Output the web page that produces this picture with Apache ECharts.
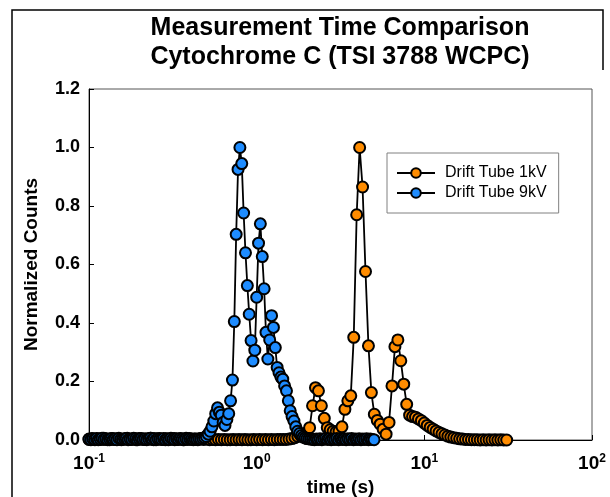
<!DOCTYPE html>
<html>
<head>
    <meta charset="utf-8">
    <title>Measurement Time Comparison</title>
    <script src="https://cdn.jsdelivr.net/npm/echarts@6/dist/echarts.min.js"></script>
    <style>
        html, body { margin: 0; padding: 0; background: #fff; }
        #main { width: 610px; height: 497px; }
    </style>
</head>
<body>
<div id="main"></div>
<script>
    var FONT = 'Liberation Sans, Arial, sans-serif';

    var seriesNames = ['Drift Tube 1kV', 'Drift Tube 9kV'];
    var seriesColors = ['#ff8c00', '#1e8cff'];
    var xTicks = [0.1, 1, 10, 100];
    var yTicks = [0, 0.2, 0.4, 0.6, 0.8, 1.0, 1.2];

    // drift tube 1kV (orange)
    var time1kV = [
        0.1000, 0.1041, 0.1084, 0.1129, 0.1175, 0.1224, 0.1274, 0.1327, 0.1382, 0.1439,
        0.1498, 0.1560, 0.1624, 0.1691, 0.1761, 0.1833, 0.1909, 0.1988, 0.2069, 0.2154,
        0.2243, 0.2336, 0.2432, 0.2532, 0.2637, 0.2745, 0.2858, 0.2976, 0.3099, 0.3227,
        0.3360, 0.3498, 0.3642, 0.3793, 0.3949, 0.4112, 0.4281, 0.4458, 0.4642, 0.4833,
        0.5032, 0.5240, 0.5456, 0.5681, 0.5915, 0.6159, 0.6413, 0.6677, 0.6952, 0.7239,
        0.7537, 0.7848, 0.8171, 0.8508, 0.8859, 0.9224, 0.9604,
        1.000, 1.041, 1.084, 1.129, 1.175, 1.224, 1.274, 1.327, 1.382, 1.439,
        1.498, 1.560, 1.624, 1.691, 1.761, 1.833, 1.909, 1.988, 2.069, 2.154,
        2.243, 2.336, 2.432, 2.532, 2.637, 2.745, 2.858, 2.976, 3.099, 3.227,
        3.360, 3.498, 3.642, 3.793, 3.949, 4.112, 4.281, 4.458, 4.642, 4.833,
        5.032, 5.240, 5.456, 5.681, 5.915, 6.159, 6.413, 6.677, 6.952, 7.239,
        7.537, 7.848, 8.171, 8.508, 8.859, 9.224, 9.604,
        10.00, 10.41, 10.84, 11.29, 11.75, 12.24, 12.74, 13.27, 13.82, 14.39,
        14.98, 15.60, 16.24, 16.91, 17.61, 18.33, 19.09, 19.88, 20.69, 21.54,
        22.43, 23.36, 24.32, 25.32, 26.37, 27.45, 28.58, 29.76, 30.99
    ];
    var counts1kV = [
        0.002, 0.005, 0.001, 0.004, 0.002, 0.006, 0.003, 0.001, 0.005, 0.002,
        0.004, 0.001, 0.003, 0.006, 0.002, 0.004, 0.001, 0.005, 0.003, 0.002,
        0.004, 0.006, 0.001, 0.003, 0.005, 0.002, 0.004, 0.001, 0.003, 0.005,
        0.002, 0.004, 0.001, 0.006, 0.003, 0.002, 0.004, 0.001, 0.005, 0.002,
        0.003, 0.001, 0.002, 0.001, 0.002, 0.001, 0.002, 0.001, 0.001, 0.002,
        0.001, 0.002, 0.001, 0.002, 0.001, 0.001, 0.002,
        0.001, 0.002, 0.001, 0.002, 0.001, 0.002, 0.001, 0.002, 0.002, 0.002,
        0.002, 0.003, 0.005, 0.008, 0.012, 0.015, 0.02, 0.025, 0.042, 0.117,
        0.179, 0.168, 0.117, 0.074, 0.042, 0.035, 0.03, 0.028, 0.03, 0.045,
        0.105, 0.134, 0.151, 0.351, 0.77, 1.0, 0.865, 0.576, 0.322, 0.162,
        0.088, 0.067, 0.054, 0.037, 0.02, 0.06, 0.185, 0.319, 0.342, 0.271,
        0.191, 0.122, 0.085, 0.08, 0.078, 0.072, 0.066,
        0.058, 0.05, 0.043, 0.037, 0.031, 0.026, 0.021, 0.017, 0.013, 0.01,
        0.008, 0.006, 0.004, 0.003, 0.002, 0.002, 0.001, 0.001, 0.001, 0,
        0.001, 0, 0.001, 0, 0.001, 0, 0.001, 0, 0
    ];

    // drift tube 9kV (blue)
    var time9kV = [
        0.1000, 0.1026, 0.1052, 0.1080, 0.1108, 0.1136, 0.1166, 0.1196, 0.1227, 0.1259,
        0.1292, 0.1325, 0.1359, 0.1395, 0.1431, 0.1468, 0.1506, 0.1545, 0.1585, 0.1626,
        0.1668, 0.1711, 0.1756, 0.1801, 0.1848, 0.1896, 0.1945, 0.1995, 0.2047, 0.2100,
        0.2154, 0.2210, 0.2268, 0.2326, 0.2387, 0.2448, 0.2512, 0.2577, 0.2644, 0.2712,
        0.2783, 0.2855, 0.2929, 0.3005, 0.3082, 0.3162, 0.3244, 0.3328, 0.3415, 0.3503,
        0.3594, 0.3687, 0.3782, 0.3881, 0.3981, 0.4084, 0.4190, 0.4299, 0.4410, 0.4524,
        0.4642, 0.4762, 0.4885, 0.5012, 0.5142, 0.5275, 0.5412, 0.5552, 0.5696, 0.5843,
        0.5995, 0.6150, 0.6310, 0.6473, 0.6641, 0.6813, 0.6989, 0.7171, 0.7356, 0.7547,
        0.7743, 0.7943, 0.8149, 0.8360, 0.8577, 0.8799, 0.9027, 0.9261, 0.9501, 0.9747,
        1.000, 1.026, 1.052, 1.080, 1.108, 1.136, 1.166, 1.196, 1.227, 1.259,
        1.292, 1.325, 1.359, 1.395, 1.431, 1.468, 1.506, 1.545, 1.585, 1.626,
        1.668, 1.711, 1.756, 1.801, 1.848, 1.896, 1.945, 1.995, 2.047, 2.100,
        2.154, 2.210, 2.268, 2.326, 2.387, 2.448, 2.512, 2.577, 2.644, 2.712,
        2.783, 2.855, 2.929, 3.005, 3.082, 3.162, 3.244, 3.328, 3.415, 3.503,
        3.594, 3.687, 3.782, 3.881, 3.981, 4.084, 4.190, 4.299, 4.410, 4.524,
        4.642, 4.762, 4.885, 5.012
    ];
    var counts9kV = [
        0.003, 0.001, 0.004, 0.002, 0.005, 0.001, 0.003, 0.006, 0.002, 0.004,
        0.001, 0.003, 0.005, 0.002, 0.004, 0.001, 0.006, 0.003, 0.002, 0.004,
        0.005, 0.001, 0.003, 0.002, 0.006, 0.004, 0.001, 0.003, 0.005, 0.002,
        0.004, 0.001, 0.003, 0.006, 0.002, 0.005, 0.001, 0.004, 0.003, 0.002,
        0.005, 0.001, 0.004, 0.002, 0.006, 0.003, 0.001, 0.004, 0.002, 0.005,
        0.003, 0.001, 0.004, 0.002, 0.005, 0.003, 0.001, 0.002, 0.002, 0.004,
        0.003, 0.006, 0.008, 0.012, 0.02, 0.03, 0.045, 0.065, 0.09, 0.11,
        0.095, 0.085, 0.06, 0.05, 0.07, 0.09, 0.134, 0.205, 0.405, 0.703,
        0.925, 1.0, 0.945, 0.776, 0.64, 0.528, 0.43, 0.34, 0.27, 0.307,
        0.488, 0.673, 0.739, 0.627, 0.517, 0.368, 0.277, 0.342, 0.425, 0.385,
        0.316, 0.248, 0.23, 0.215, 0.208, 0.185, 0.168, 0.134, 0.10, 0.08,
        0.065, 0.045, 0.03, 0.022, 0.015, 0.01, 0.007, 0.005, 0.004, 0.003,
        0.002, 0.001, 0.003, 0.002, 0.004, 0.001, 0.003, 0.005, 0.002, 0.004,
        0.001, 0.003, 0.002, 0.005, 0.001, 0.004, 0.002, 0.003, 0.001, 0.004,
        0.002, 0.005, 0.001, 0.003, 0.002, 0.004, 0.001, 0.003, 0.002, 0.004,
        0.001, 0.003, 0.002, 0.001
    ];

    function zip(xs, ys) {
        var out = [];
        for (var i = 0; i < xs.length; i++) out.push([xs[i], ys[i]]);
        return out;
    }

    function makeSeries(name, color, xs, ys) {
        return {
            name: name,
            type: 'line',
            data: zip(xs, ys),
            symbol: 'circle',
            symbolSize: 11,
            showAllSymbol: true,
            clip: false,
            itemStyle: {color: color, borderColor: '#000', borderWidth: 2},
            lineStyle: {color: '#000', width: 1.8}
        };
    }

    var myChart = echarts.init(document.getElementById('main'), null, {renderer: 'canvas'});

    var option = {
        animation: false,
        backgroundColor: '#fff',
        graphic: [
            {
                type: 'polyline',
                shape: {points: [[12, 497], [12, 10], [603, 10], [603, 70]]},
                style: {stroke: '#000', lineWidth: 1.5, fill: null}
            },
            {
                type: 'text', x: 340, y: 28,
                style: {
                    text: 'Measurement Time Comparison', align: 'center', verticalAlign: 'middle',
                    font: 'bold 25px ' + FONT, fill: '#000'
                }
            },
            {
                type: 'text', x: 340, y: 57,
                style: {
                    text: 'Cytochrome C (TSI 3788 WCPC)', align: 'center', verticalAlign: 'middle',
                    font: 'bold 25px ' + FONT, fill: '#000'
                }
            }
        ],
        grid: {
            left: 89, right: 18, top: 89, bottom: 57,
            outerBoundsMode: 'none',
            show: true, borderColor: '#555', borderWidth: 1
        },
        legend: {
            orient: 'vertical',
            left: 387, top: 153,
            padding: [12, 12, 12, 9],
            itemGap: 4,
            itemWidth: 38,
            itemHeight: 12,
            borderColor: '#808080',
            borderWidth: 1,
            textStyle: {fontSize: 16, color: '#000', fontFamily: FONT, lineHeight: 16, padding: [0, 0, 0, 5]},
            data: seriesNames
        },
        xAxis: {
            type: 'log',
            logBase: 10,
            min: xTicks[0],
            max: xTicks[xTicks.length - 1],
            name: 'time (s)',
            nameLocation: 'middle',
            nameGap: 36,
            nameTextStyle: {fontSize: 19, fontWeight: 'bold', color: '#000', fontFamily: FONT},
            axisLine: {lineStyle: {color: '#000', width: 1}},
            axisTick: {inside: true, length: 5, lineStyle: {color: '#000'}},
            minorTick: {show: false},
            splitLine: {show: false},
            axisLabel: {
                margin: 13,
                color: '#000',
                formatter: function (v) {
                    var e = Math.round(Math.log10(v));
                    return '{b|10}{s|' + e + '}';
                },
                rich: {
                    b: {fontSize: 19, fontWeight: 'bold', fontFamily: FONT, color: '#000'},
                    s: {fontSize: 12, fontWeight: 'bold', fontFamily: FONT, color: '#000', verticalAlign: 'top', padding: [0, 0, 10, 0]}
                }
            }
        },
        yAxis: {
            type: 'value',
            min: yTicks[0],
            max: yTicks[yTicks.length - 1],
            interval: 0.2,
            name: 'Normalized Counts',
            nameLocation: 'middle',
            nameGap: 48,
            nameRotate: 90,
            nameTextStyle: {fontSize: 19, fontWeight: 'bold', color: '#000', fontFamily: FONT},
            axisLine: {show: true, lineStyle: {color: '#000', width: 1}},
            axisTick: {show: true, inside: true, length: 5, lineStyle: {color: '#000'}},
            splitLine: {show: false},
            axisLabel: {
                margin: 9,
                fontSize: 18,
                fontWeight: 'bold',
                fontFamily: FONT,
                color: '#000',
                formatter: function (v) { return v.toFixed(1); }
            }
        },
        series: [
            makeSeries(seriesNames[0], seriesColors[0], time1kV, counts1kV),
            makeSeries(seriesNames[1], seriesColors[1], time9kV, counts9kV)
        ]
    };

    myChart.setOption(option);
</script>
</body>
</html>
